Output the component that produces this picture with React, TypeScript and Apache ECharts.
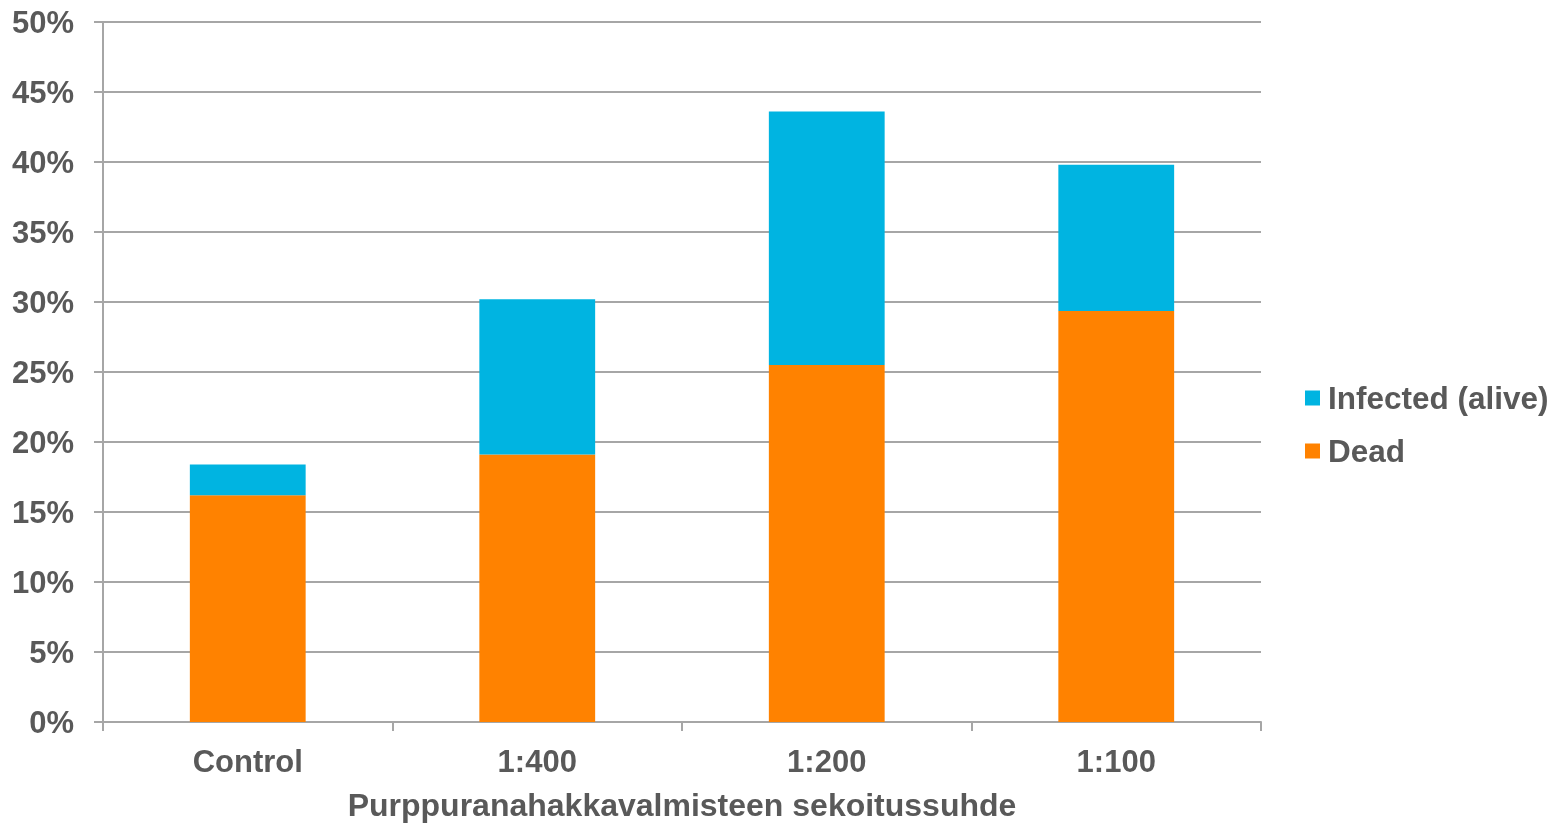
import React, { useEffect, useRef } from "react";
import * as echarts from "echarts";

const categories = ["Control", "1:400", "1:200", "1:100"];
const deadValues = [16.2, 19.1, 25.5, 29.35];
const infectedValues = [2.2, 11.1, 18.1, 10.45];
const yTicks = [0, 5, 10, 15, 20, 25, 30, 35, 40, 45, 50];
const xAxisTitle = "Purppuranahakkavalmisteen sekoitussuhde";
const seriesNames = { infected: "Infected (alive)", dead: "Dead" };

const TEXT = "#595959";
const GRID = "#a6a6a6";
const FONT = "'Liberation Sans', Arial, sans-serif";

export default function App() {
  const ref = useRef<HTMLDivElement>(null);
  useEffect(() => {
    document.body.style.margin = "0";
    document.documentElement.style.overflow = "hidden";
    if (!ref.current) return;
    const chart = echarts.init(ref.current, null, { renderer: "svg" });
    chart.setOption({
      animation: false,
      grid: {
        left: 103,
        width: 1158,
        top: 22,
        height: 700,
        containLabel: false,
        outerBoundsMode: "none",
      },
      legend: {
        orient: "vertical",
        left: 1300,
        top: 377,
        itemWidth: 15,
        itemHeight: 15,
        itemGap: 21,
        icon: "rect",
        data: [seriesNames.infected, seriesNames.dead],
        textStyle: {
          color: TEXT,
          fontFamily: FONT,
          fontWeight: "bold",
          fontSize: 31.5,
          lineHeight: 31,
          padding: [0, 0, 0, 3],
        },
      },
      xAxis: {
        type: "category",
        data: categories,
        name: xAxisTitle,
        nameLocation: "middle",
        nameGap: 67,
        nameTextStyle: { color: TEXT, fontFamily: FONT, fontWeight: "bold", fontSize: 32 },
        axisLine: { lineStyle: { color: GRID, width: 2 } },
        axisTick: { show: true, length: 9, lineStyle: { color: GRID, width: 2 } },
        axisLabel: { color: TEXT, fontFamily: FONT, fontWeight: "bold", fontSize: 31, margin: 24 },
      },
      yAxis: {
        type: "value",
        min: yTicks[0],
        max: yTicks[yTicks.length - 1],
        interval: 5,
        axisLine: { show: true, lineStyle: { color: GRID, width: 2 } },
        axisTick: { show: true, length: 9, lineStyle: { color: GRID, width: 2 } },
        splitLine: { show: true, lineStyle: { color: GRID, width: 2 } },
        axisLabel: {
          color: TEXT,
          fontFamily: FONT,
          fontWeight: "bold",
          fontSize: 31,
          margin: 29,
          formatter: (v: number) => `${v}%`,
        },
      },
      series: [
        {
          name: seriesNames.dead,
          type: "bar",
          stack: "total",
          data: deadValues,
          barWidth: "40%",
          itemStyle: { color: "#ff8200" },
        },
        {
          name: seriesNames.infected,
          type: "bar",
          stack: "total",
          data: infectedValues,
          barWidth: "40%",
          itemStyle: { color: "#00b4e1" },
        },
      ],
    });
    return () => chart.dispose();
  }, []);
  return (
    <div
      ref={ref}
      style={{ position: "fixed", left: 0, top: 0, width: 1564, height: 823 }}
    />
  );
}
